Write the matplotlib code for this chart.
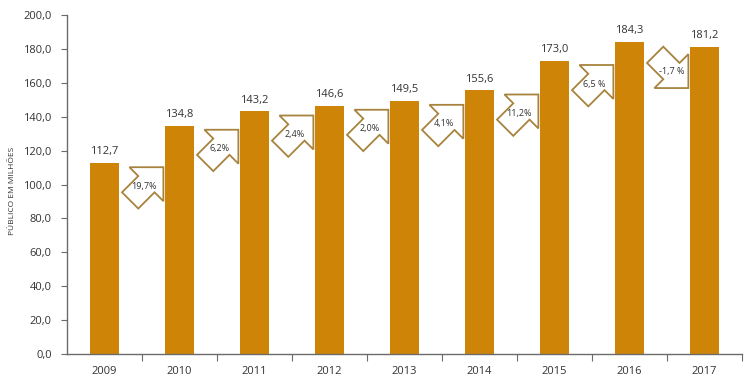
import matplotlib
matplotlib.use("Agg")
import matplotlib.pyplot as plt
import matplotlib.transforms as mtransforms
from matplotlib.patches import Polygon
import numpy as np

plt.rcParams['font.family'] = ['Open Sans', 'DejaVu Sans']

years = ["2009", "2010", "2011", "2012", "2013", "2014", "2015", "2016", "2017"]
public = [112.7, 134.8, 143.2, 146.6, 149.5, 155.6, 173.0, 184.3, 181.2]
growth_labels = ["19,7%", "6,2%", "2,4%", "2,0%", "4,1%", "11,2%", "6,5 %", "-1,7 %"]
value_labels = ["112,7", "134,8", "143,2", "146,6", "149,5", "155,6", "173,0", "184,3", "181,2"]
yticks = [0, 20, 40, 60, 80, 100, 120, 140, 160, 180, 200]
ytick_labels = ["0,0", "20,0", "40,0", "60,0", "80,0", "100,0", "120,0", "140,0", "160,0", "180,0", "200,0"]

BAR = '#CD8407'
EDGE = '#A8833E'
TXT = '#333333'
AX = '#6b6b6b'

fig = plt.figure(figsize=(7.5, 3.76), dpi=100)
ax = fig.add_axes([67/750, 1-354/376, (742-67)/750, (354-15)/376])

x = np.arange(len(years))
bw = 0.39
ax.bar(x, public, width=bw, color=BAR, zorder=2)
ax.set_xlim(-0.5, len(years) - 0.5)
ax.set_ylim(0, 200)

for xi, v, lab in zip(x, public, value_labels):
    ax.annotate(lab, (xi, v), xytext=(0, 4), textcoords='offset points',
                ha='center', va='bottom', fontsize=8, color=TXT)

# arrow shape (pixels, y up), tip at origin, pointing up-right at 45 deg
L, H, W, S = 47.0, 24.0, 24.0, 11.5
uv = [(L, 0), (L - H, W), (L - H, S), (0, S), (0, -S), (L - H, -S), (L - H, -W)]
r2 = np.sqrt(2)
tip = np.array([L / r2, L / r2])
shape = np.array([((u - v) / r2, (u + v) / r2) for u, v in uv]) - tip

for i, lab in enumerate(growth_labels):
    prev, nxt = public[i], public[i + 1]
    ax_x = (i + 1) - bw / 2
    if nxt >= prev:
        verts = shape.copy()
        anchor_y = prev - 2.5
        yoff = 0.0
        txt_off = (-19, -19)
    else:
        verts = shape.copy()
        verts[:, 1] = -verts[:, 1]
        anchor_y = prev - 3.0
        yoff = -verts[:, 1].max()
        txt_off = (-17, 17)
    verts[:, 0] -= 1.5
    verts[:, 1] += yoff
    trans = (mtransforms.Affine2D().scale(0.01) + fig.dpi_scale_trans +
             mtransforms.ScaledTranslation(ax_x, anchor_y, ax.transData))
    poly = Polygon(verts, closed=True, facecolor='white', edgecolor=EDGE,
                   linewidth=1.3, transform=trans, zorder=3)
    ax.add_patch(poly)
    ax.text(txt_off[0] - 1.5, txt_off[1] + yoff, lab, transform=trans,
            ha='center', va='center', fontsize=6.5, color=TXT, zorder=4)

for s in ['top', 'right']:
    ax.spines[s].set_visible(False)
for s in ['left', 'bottom']:
    ax.spines[s].set_color(AX)
    ax.spines[s].set_linewidth(1.0)

ax.set_yticks(yticks)
ax.set_yticklabels(ytick_labels)
ax.tick_params(axis='y', direction='out', length=4, width=0.8, color=AX,
               labelsize=8, labelcolor=TXT, pad=7)
ax.set_xticks(x)
ax.set_xticklabels(years)
ax.tick_params(axis='x', which='major', length=0, labelsize=8, labelcolor=TXT, pad=9)
ax.set_xticks(np.arange(len(years)) + 0.5, minor=True)
ax.tick_params(axis='x', which='minor', direction='out', length=5, width=0.8, color=AX)

fig.text(13/750, 1-191/376, "PÚBLICO EM MILHÕES", rotation=90, ha='center', va='center',
         fontsize=6, color=TXT)

fig.savefig("out.png", dpi=100)
